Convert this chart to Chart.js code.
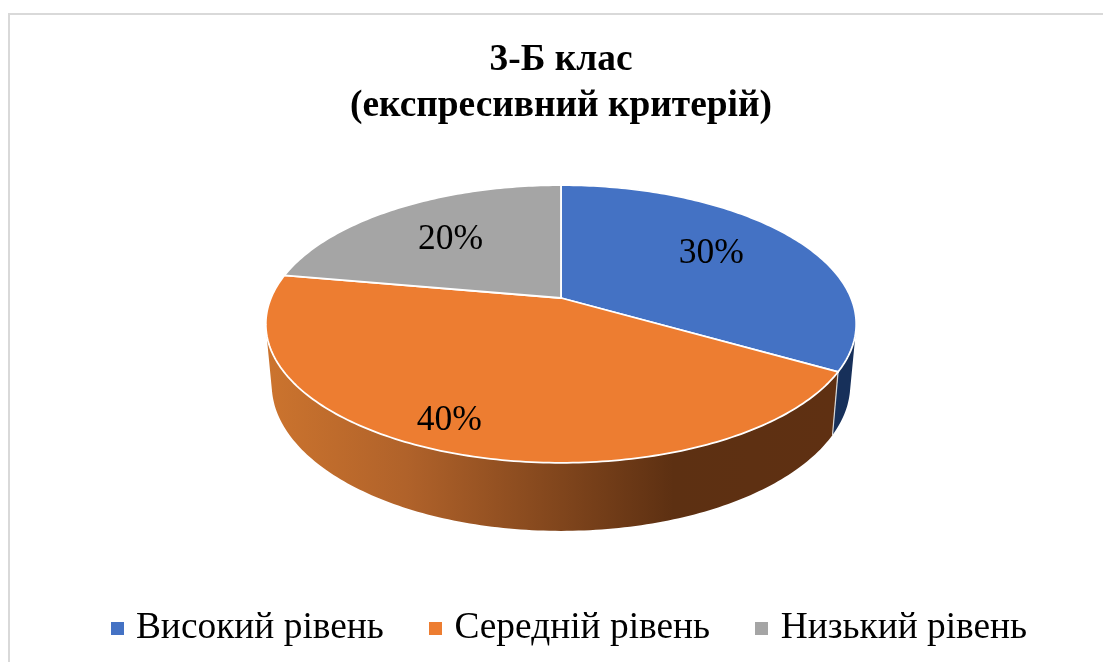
<!DOCTYPE html>
<html lang="uk">
<head>
<meta charset="utf-8">
<style>html,body{margin:0;padding:0;background:#fff}canvas{display:block}</style>
<script src="https://cdn.jsdelivr.net/npm/chart.js@4"></script>
</head>
<body>
<div style="width:1103px;height:662px"><canvas id="c" width="1103" height="662"></canvas></div>
<script>
const categories = ['Високий рівень', 'Середній рівень', 'Низький рівень'];
const values = [30, 40, 20];
const valueLabels = ['30%', '40%', '20%'];
const titleLines = ['3-Б клас', '(експресивний критерій)'];
const colors = ['#4472C4', '#ED7D31', '#A5A5A5'];
const labelReach = [0.669, 0.835, 0.648];

const FONT = '"Liberation Serif", serif';
const view = {apexY: 298, radius: 290, tilt: 134, persp: 0.187, wallScaleX: 0.98, wallBaseY: 357, wallScaleY: 1.055};

function project(cx, u, v) {
  const s = 1 / (1 - view.persp * v);
  return [cx + view.radius * u * s, view.apexY + view.tilt * v * s];
}
function toWall(cx, p) {
  return [cx + (p[0] - cx) * view.wallScaleX, view.wallBaseY + (p[1] - view.apexY) * view.wallScaleY];
}
function rim(cx, a0, a1) {
  const n = Math.max(8, Math.ceil((a1 - a0) * 60)), pts = [];
  for (let i = 0; i <= n; i++) {
    const a = a0 + (a1 - a0) * i / n;
    pts.push(project(cx, Math.cos(a), Math.sin(a)));
  }
  return pts;
}
function squareIcon(color) {
  const k = document.createElement('canvas');
  k.width = 13; k.height = 13;
  const g = k.getContext('2d');
  g.fillStyle = color; g.fillRect(0, 0, 13, 13);
  return k;
}
function wallFill(ctx, index) {
  if (index === 0) return '#17305A';
  const g = ctx.createLinearGradient(266, 0, 832, 0);
  g.addColorStop(0, '#CC742E');
  g.addColorStop(0.25, '#B0622A');
  g.addColorStop(0.72, '#5D3012');
  g.addColorStop(1, '#5F3012');
  return g;
}
function signedArea(q) {
  let s = 0;
  q.forEach((p, i) => { const r = q[(i + 1) % q.length]; s += p[0] * r[1] - r[0] * p[1]; });
  return s;
}

const tiltedPie = {
  id: 'tiltedPie',
  afterLayout(chart) {
    chart.legend.left += 11.15;
    chart.legend.right += 11.15;
  },
  beforeDraw(chart) {
    const ctx = chart.ctx;
    ctx.save();
    ctx.strokeStyle = '#D9D9D9';
    ctx.lineWidth = 2;
    ctx.beginPath();
    ctx.moveTo(9, 662); ctx.lineTo(9, 14); ctx.lineTo(1103, 14);
    ctx.stroke();
    ctx.restore();
  },
  beforeDatasetDraw(chart, args) {
    const ctx = chart.ctx;
    const arcs = args.meta.data;
    ctx.save();
    // side walls: one path of same-wound quads, so the outline has straight tangent edges
    arcs.forEach((arc, i) => {
      if (i === 2) return;
      const top = rim(arc.x, arc.startAngle, arc.endAngle);
      ctx.beginPath();
      for (let k = 0; k < top.length - 1; k++) {
        let q = [top[k], top[k + 1], toWall(arc.x, top[k + 1]), toWall(arc.x, top[k])];
        if (signedArea(q) < 0) q = q.reverse();
        q.forEach((p, n) => n ? ctx.lineTo(p[0], p[1]) : ctx.moveTo(p[0], p[1]));
        ctx.closePath();
      }
      ctx.fillStyle = wallFill(ctx, i);
      ctx.fill();
    });
    // seam between the two visible walls
    const seam = arcs[0];
    const sp = rim(seam.x, seam.endAngle, seam.endAngle)[0];
    const sq = toWall(seam.x, sp);
    ctx.strokeStyle = '#D8D8D8';
    ctx.lineWidth = 1.2;
    ctx.beginPath(); ctx.moveTo(sp[0], sp[1]); ctx.lineTo(sq[0], sq[1]); ctx.stroke();
    // top faces
    arcs.forEach((arc, i) => {
      ctx.beginPath();
      const o = project(arc.x, 0, 0);
      ctx.moveTo(o[0], o[1]);
      rim(arc.x, arc.startAngle, arc.endAngle).forEach(p => ctx.lineTo(p[0], p[1]));
      ctx.closePath();
      ctx.fillStyle = colors[i];
      ctx.fill();
      ctx.strokeStyle = '#FFFFFF';
      ctx.lineWidth = 1.8;
      ctx.lineJoin = 'round';
      ctx.stroke();
    });
    // value labels
    ctx.fillStyle = '#000';
    ctx.font = '35.5px ' + FONT;
    ctx.textAlign = 'center';
    ctx.textBaseline = 'middle';
    arcs.forEach((arc, i) => {
      const m = (arc.startAngle + arc.endAngle) / 2 + (i === 1 ? 0.0575 : i === 0 ? -0.07 : 0);
      const p = project(arc.x, Math.cos(m) * labelReach[i], Math.sin(m) * labelReach[i]);
      ctx.fillText(valueLabels[i], p[0], p[1] + 3);
    });
    ctx.restore();
    return false;
  }
};

new Chart(document.getElementById('c'), {
  type: 'pie',
  data: {
    labels: categories,
    datasets: [{data: values, backgroundColor: colors, borderWidth: 0}]
  },
  plugins: [tiltedPie],
  options: {
    responsive: false,
    animation: false,
    layout: {padding: {left: 19, right: 0, top: 0, bottom: 5}},
    plugins: {
      tooltip: {enabled: false},
      title: {
        display: true,
        text: titleLines,
        color: '#000',
        font: {family: FONT, size: 37.4, weight: 'bold', lineHeight: 1.23},
        padding: {top: 37, bottom: 20}
      },
      legend: {
        position: 'bottom',
        labels: {
          color: '#000',
          font: {family: FONT, size: 37.4},
          boxWidth: 0.1,
          boxHeight: 13,
          padding: 51.7,
          usePointStyle: true,
          generateLabels: () => categories.map((t, i) => ({
            text: t, fillStyle: colors[i], strokeStyle: colors[i], lineWidth: 0,
            pointStyle: squareIcon(colors[i]), hidden: false, index: i
          }))
        }
      }
    }
  }
});
</script>
</body>
</html>
